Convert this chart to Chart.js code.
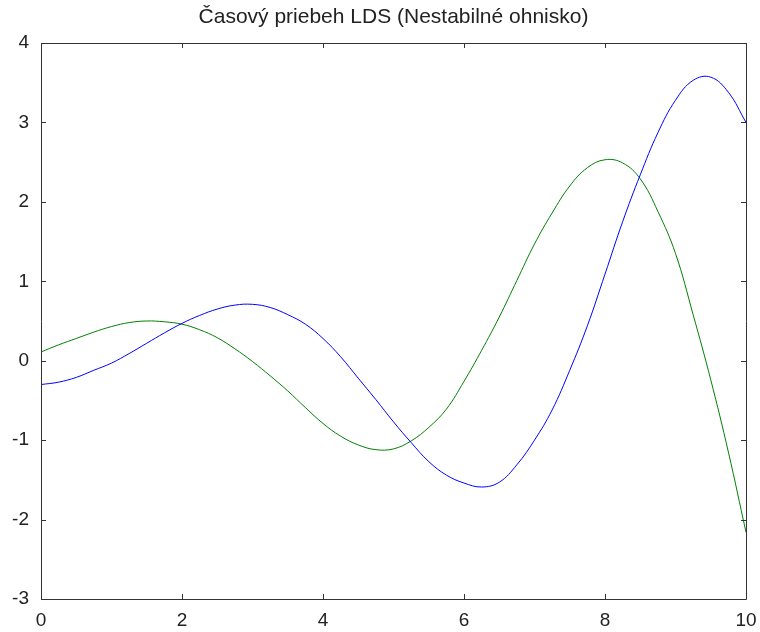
<!DOCTYPE html>
<html>
<head>
<meta charset="utf-8">
<script src="https://cdn.jsdelivr.net/npm/chart.js@4"></script>
<style>
  html, body { margin: 0; padding: 0; background: #fff; }
  #wrap { width: 760px; height: 632px; }
</style>
</head>
<body>
<div id="wrap"><canvas id="ldsChart" width="760" height="632"></canvas></div>
<script>
// Time samples and the two state trajectories
const timeSteps = [0, 0.25, 0.5, 0.75, 1, 1.25, 1.5, 1.75, 2, 2.25, 2.5, 2.75, 3, 3.25, 3.5, 3.75,
    4, 4.25, 4.5, 4.75, 5, 5.25, 5.5, 5.75, 6, 6.25, 6.5, 6.75, 7, 7.25, 7.5, 7.75,
    8, 8.25, 8.5, 8.75, 9, 9.25, 9.5, 9.75, 10];
const stateX1 = [-0.30, -0.27, -0.21, -0.12, -0.03, 0.09, 0.22, 0.35, 0.47, 0.57, 0.65, 0.70, 0.71, 0.67, 0.58, 0.46,
    0.28, 0.05, -0.22, -0.49, -0.77, -1.03, -1.27, -1.44, -1.54, -1.59, -1.53, -1.31, -1.00, -0.62, -0.12, 0.44,
    1.09, 1.75, 2.34, 2.87, 3.28, 3.53, 3.57, 3.38, 3.00];
const stateX2 = [0.11, 0.20, 0.28, 0.36, 0.43, 0.48, 0.50, 0.49, 0.46, 0.39, 0.29, 0.15, -0.01, -0.19, -0.38, -0.59,
    -0.79, -0.95, -1.06, -1.12, -1.11, -1.01, -0.84, -0.61, -0.26, 0.13, 0.55, 1.01, 1.47, 1.86, 2.20, 2.43,
    2.53, 2.49, 2.29, 1.88, 1.35, 0.58, -0.24, -1.15, -2.16];
const xTicks = [0, 2, 4, 6, 8, 10];
const yTicks = [-3, -2, -1, 0, 1, 2, 3, 4];
const chartTitle = 'Časový priebeh LDS (Nestabilné ohnisko)';

const fontFamily = '"Liberation Sans", Arial, sans-serif';

// MATLAB style box with inward ticks on all four sides
const boxPlugin = {
    id: 'matlabBox',
    afterDraw(chart) {
        const { ctx, chartArea: a, scales } = chart;
        const len = 5;
        ctx.save();
        ctx.strokeStyle = '#333';
        ctx.lineWidth = 1;
        ctx.beginPath();
        ctx.rect(Math.round(a.left) + 0.5, Math.round(a.top) + 0.5,
            Math.round(a.right - a.left), Math.round(a.bottom - a.top));
        xTicks.forEach(v => {
            const px = Math.round(scales.x.getPixelForValue(v)) + 0.5;
            ctx.moveTo(px, a.bottom); ctx.lineTo(px, a.bottom - len);
            ctx.moveTo(px, a.top); ctx.lineTo(px, a.top + len);
        });
        yTicks.forEach(v => {
            const py = Math.round(scales.y.getPixelForValue(v)) + 0.5;
            ctx.moveTo(a.left, py); ctx.lineTo(a.left + len, py);
            ctx.moveTo(a.right, py); ctx.lineTo(a.right - len, py);
        });
        ctx.stroke();
        ctx.restore();
    }
};

const toPoints = ys => timeSteps.map((t, i) => ({ x: t, y: ys[i] }));

new Chart(document.getElementById('ldsChart'), {
    type: 'line',
    data: {
        datasets: [
            {
                label: 'x1',
                data: toPoints(stateX1),
                borderColor: '#0000ff',
                borderWidth: 1,
                pointRadius: 0,
                tension: 0.4
            },
            {
                label: 'x2',
                data: toPoints(stateX2),
                borderColor: '#008000',
                borderWidth: 1,
                pointRadius: 0,
                tension: 0.4
            }
        ]
    },
    options: {
        responsive: false,
        animation: false,
        layout: { padding: { left: 0, right: 14, top: 0, bottom: 0 } },
        plugins: {
            legend: { display: false },
            tooltip: { enabled: false },
            title: {
                display: true,
                fullSize: false,
                text: chartTitle,
                color: '#222',
                font: { family: fontFamily, size: 21, weight: 'normal' },
                padding: { top: 5, bottom: 12.8 }
            }
        },
        scales: {
            x: {
                type: 'linear',
                min: 0,
                max: 10,
                afterFit(scale) { scale.height = 33; },
                afterBuildTicks(scale) { scale.ticks = xTicks.map(v => ({ value: v })); },
                grid: { display: false },
                border: { display: false },
                ticks: {
                    color: '#222',
                    padding: 2,
                    maxRotation: 0,
                    font: { family: fontFamily, size: 19 }
                }
            },
            y: {
                type: 'linear',
                min: -3,
                max: 4,
                afterFit(scale) { scale.width = 41; },
                afterBuildTicks(scale) { scale.ticks = yTicks.map(v => ({ value: v })); },
                grid: { display: false },
                border: { display: false },
                ticks: {
                    color: '#222',
                    padding: 4,
                    font: { family: fontFamily, size: 19 }
                }
            }
        }
    },
    plugins: [boxPlugin]
});
</script>
</body>
</html>
